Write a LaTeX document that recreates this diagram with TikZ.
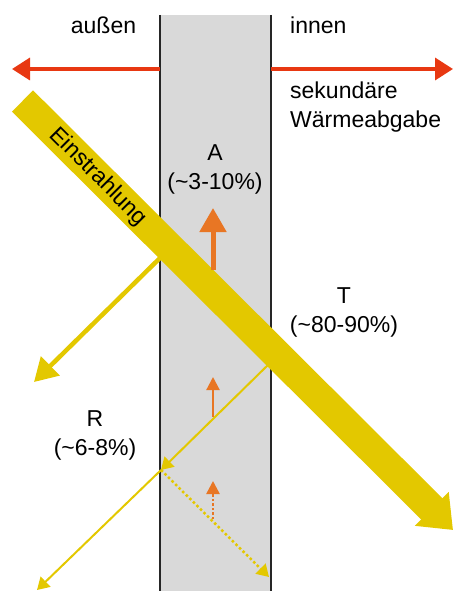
\documentclass[tikz,border=0pt]{standalone}
\usepackage{fontspec}
\setmainfont{Liberation Sans}
\usetikzlibrary{arrows.meta}
\definecolor{sunyellow}{RGB}{227,200,0}
\definecolor{heatred}{RGB}{232,56,18}
\definecolor{absorange}{RGB}{232,118,36}
\definecolor{glassgray}{RGB}{217,217,217}
\tikzset{
  note/.style={
    font=\fontsize{23}{29}\selectfont,
    align=center,
    inner sep=0pt
  },
  paneline/.style={line width=2.5pt, draw=black!85},
  heatarrow/.style={-{Triangle[length=18pt,width=22pt]}, line width=3.5pt, draw=heatred},
  beam/.style={-{Triangle[length=30pt,width=46pt]}, line width=30pt, draw=sunyellow},
  reflarrow/.style={-{Triangle[length=23pt,width=26pt]}, line width=4.5pt, draw=sunyellow},
  ray/.style={-{Triangle[length=12pt,width=14pt]}, line width=2pt, draw=sunyellow},
  dotray/.style={ray, line width=2.5pt, dash pattern=on 2.5pt off 2.5pt},
  absarrow/.style={-{Triangle[length=24pt,width=26pt]}, line width=5pt, draw=absorange},
  smallabs/.style={-{Triangle[length=13pt,width=13pt]}, line width=2.2pt, draw=absorange},
  smallabsdot/.style={smallabs, line width=2.5pt, dash pattern=on 2.5pt off 2pt}
}

\begin{document}
\begin{tikzpicture}[x=1pt,y=-1pt]
\useasboundingbox (0,0) rectangle (454,591);

% glass pane
\fill[glassgray] (160,15) rectangle (271,591);
\draw[paneline] (160,15) -- (160,591);
\draw[paneline] (271,15) -- (271,591);

% points
\coordinate (heatL) at (160,69);
\coordinate (heatLtip) at (12,69);
\coordinate (heatR) at (271,69);
\coordinate (heatRtip) at (453,69);
\coordinate (beamstart) at (22.5,101);
\coordinate (beamtip) at (453,530);
\coordinate (hitout) at (160,258);
\coordinate (refltip) at (34,382);
\coordinate (hitin) at (271,362);
\coordinate (backhit) at (161,470);
\coordinate (backtip) at (37,590);
\coordinate (dottip) at (269,577);
\coordinate (absA) at (213,270);
\coordinate (absAtip) at (213,208);
\coordinate (absB) at (213,417);
\coordinate (absBtip) at (213,377);
\coordinate (absC) at (213,519);
\coordinate (absCtip) at (213,481);

% texts (base = last line)
\node[note, anchor=base] (aussen) at (103.5,34) {außen};
\node[note, anchor=base west] (innen) at (290,34) {innen};
\node[note, anchor=base west, align=left] (waerme) at (290,128) {sekundäre\\Wärmeabgabe};
\node[note, anchor=base] (absorb) at (215,189) {A\\(\textasciitilde 3-10\%)};
\node[note, anchor=base] (trans) at (344,332) {T\\(\textasciitilde 80-90\%)};
\node[note, anchor=base] (refl) at (95,455) {R\\(\textasciitilde 6-8\%)};

% heat flow
\draw[heatarrow] (heatL) -- (heatLtip);
\draw[heatarrow] (heatR) -- (heatRtip);

% radiation
\draw[beam] (beamstart) -- (beamtip);
\node[note, rotate=-45] (einstr) at (98,177) {Einstrahlung};
\draw[reflarrow] (hitout) -- (refltip);
\draw[ray] (hitin) -- (backhit);
\draw[ray] (backhit) -- (backtip);
\draw[dotray] (backhit) -- (dottip);

% absorption
\draw[absarrow] (absA) -- (absAtip);
\draw[smallabs] (absB) -- (absBtip);
\draw[smallabsdot] (absC) -- (absCtip);
\end{tikzpicture}
\end{document}
